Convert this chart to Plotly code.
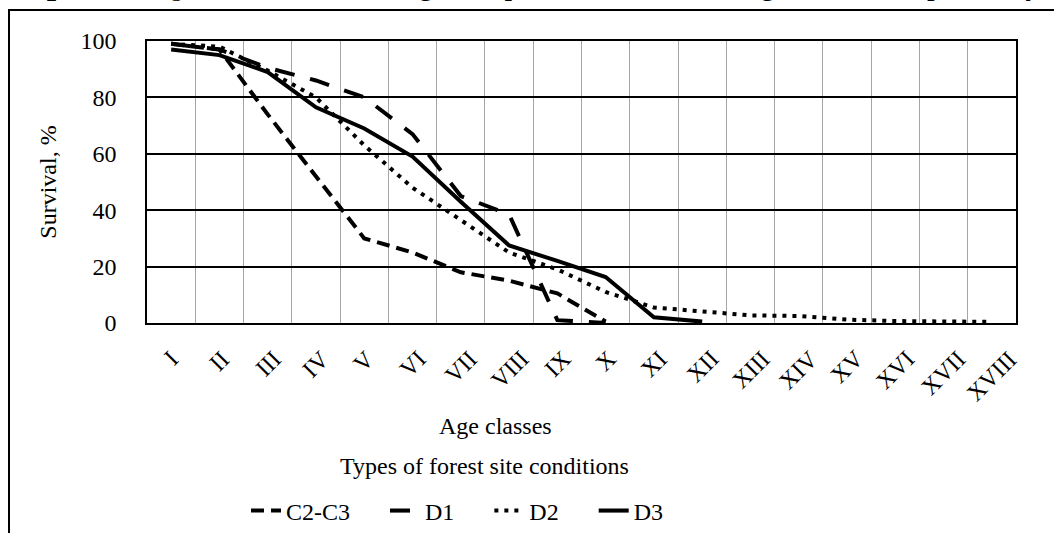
import plotly.graph_objects as go

age_classes = ["I", "II", "III", "IV", "V", "VI", "VII", "VIII", "IX", "X",
               "XI", "XII", "XIII", "XIV", "XV", "XVI", "XVII", "XVIII"]
c2_c3 = [99, 97, 74, 52, 30, 25, 18, 15, 10.5, 0.5]
d1 = [99, 97, 90.5, 86, 80, 67, 45, 38.5, 1, 0]
d2 = [99, 98, 89.5, 80, 63, 48, 36.5, 25, 19, 11, 5.5, 4, 2.7, 2.5, 1.2, 0.7, 0.5, 0.4]
d3 = [97, 95, 89, 76.5, 69, 59, 43, 27.5, 22, 16.3, 2, 0.5]
y_ticks = [0, 20, 40, 60, 80, 100]

FONT = "Liberation Serif, Times New Roman, DejaVu Serif, serif"
FS = 24
W, H = 1054, 533
ML, MT = 147, 41
MR = W - 1016
MB = H - 323
PW, PH = W - ML - MR, H - MT - MB


def px_x(p):
    return (p - ML) / PW


def px_y(p):
    return (H - MB - p) / PH


NB = "\u00a0" * 5
series = [
    ("C2-C3", c2_c3, dict(dash="13px,7px", width=4)),
    ("D1", d1, dict(dash="20px,16px", width=4)),
    ("D2", d2, dict(dash="4px,6px", width=4)),
    ("D3", d3, dict(dash="solid", width=4)),
]

fig = go.Figure()
for name, vals, st in series:
    fig.add_trace(go.Scatter(
        x=age_classes[:len(vals)], y=vals, mode="lines", name=name + NB,
        line=dict(color="black", **st),
    ))

annotations = []
for c in age_classes:
    annotations.append(dict(
        x=c, xref="x", y=0, yref="paper", yshift=-20, text=c, showarrow=False,
        textangle=-45, xanchor="center", yanchor="top",
        font=dict(family=FONT, size=FS, color="black"),
    ))
annotations.append(dict(
    x=px_x(495), y=px_y(426), xref="paper", yref="paper", text="Age classes",
    showarrow=False, xanchor="center", yanchor="middle",
    font=dict(family=FONT, size=FS, color="black"),
))
annotations.append(dict(
    x=px_x(484), y=px_y(466), xref="paper", yref="paper",
    text="Types of forest site conditions",
    showarrow=False, xanchor="center", yanchor="middle",
    font=dict(family=FONT, size=FS, color="black"),
))
annotations.append(dict(
    x=px_x(-10), y=px_y(8), xref="paper", yref="paper",
    text="in D<sub>2</sub> and in D<sub>3</sub> ash stands live longer \u2013 up to XVIII and XII age classes respectively",
    showarrow=False, xanchor="left", yanchor="bottom",
    font=dict(family=FONT, size=31, color="black"),
))

shapes = [
    dict(type="line", xref="paper", yref="paper", x0=px_x(9), x1=px_x(9),
         y0=px_y(10), y1=px_y(560), line=dict(color="black", width=2)),
    dict(type="line", xref="paper", yref="paper", x0=px_x(8), x1=px_x(1080),
         y0=px_y(10), y1=px_y(10), line=dict(color="black", width=2)),
]

fig.update_layout(
    width=W, height=H,
    margin=dict(l=ML, r=MR, t=MT, b=MB, autoexpand=False),
    paper_bgcolor="white", plot_bgcolor="white",
    font=dict(family=FONT, size=FS, color="black"),
    showlegend=True,
    legend=dict(orientation="h", x=px_x(246), y=px_y(511), xanchor="left",
                yanchor="middle", font=dict(family=FONT, size=FS, color="black"),
                bgcolor="rgba(0,0,0,0)", tracegroupgap=0),
    annotations=annotations,
    shapes=shapes,
    xaxis=dict(
        type="category", categoryorder="array", categoryarray=age_classes,
        range=[-0.5, len(age_classes) - 0.5],
        tickson="boundaries", showgrid=True, gridcolor="#a6a6a6", gridwidth=1,
        showticklabels=False, ticks="",
        showline=True, linecolor="black", linewidth=2, mirror=True,
        fixedrange=True,
    ),
    yaxis=dict(
        range=[0, 100], tickvals=y_ticks, ticktext=[str(v) for v in y_ticks],
        showgrid=True, gridcolor="black", gridwidth=2, zeroline=False,
        showline=True, linecolor="black", linewidth=1.5, mirror=True,
        ticks="", ticklabelstandoff=24, fixedrange=True,
        tickfont=dict(family=FONT, size=FS, color="black"),
        title=dict(text="Survival, %", standoff=17,
                   font=dict(family=FONT, size=FS, color="black")),
    ),
)

fig.write_html("out.html", config={"displayModeBar": False},
               post_script="document.body.style.margin='0px';")
